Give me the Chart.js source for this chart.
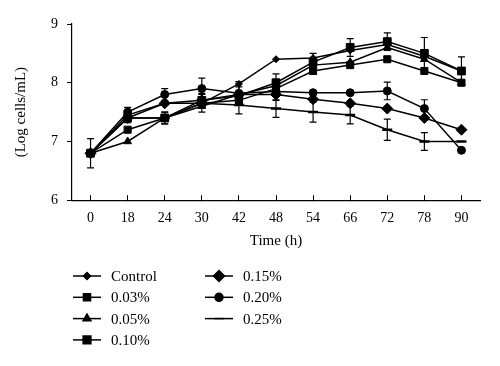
<!DOCTYPE html>
<html>
<head>
<meta charset="utf-8">
<script src="https://cdn.jsdelivr.net/npm/chart.js@4.4.0/dist/chart.umd.min.js"></script>
<style>
  html, body { margin: 0; padding: 0; background: #fff; }
  #wrap { width: 500px; height: 366px; position: relative; }
</style>
</head>
<body>
<div id="wrap"><canvas id="chart"></canvas></div>
<script>
// Growth curves: log cells/mL over time, one line per treatment.
const TIMES = ["0", "18", "24", "30", "42", "48", "54", "66", "72", "78", "90"];

const CONTROL = [6.8, 7.45, 7.65, 7.65, 7.98, 8.40, 8.42, 8.55, 8.65, 8.45, 8.20];
const P003 = [6.8, 7.20, 7.40, 7.65, 7.70, 7.90, 8.20, 8.30, 8.40, 8.20, 8.00];
const P005 = [6.8, 7.00, 7.40, 7.60, 7.80, 7.95, 8.30, 8.35, 8.60, 8.40, 8.00];
const P010 = [6.8, 7.40, 7.40, 7.70, 7.78, 8.00, 8.35, 8.60, 8.70, 8.50, 8.20];
const P015 = [6.8, 7.40, 7.65, 7.70, 7.80, 7.80, 7.72, 7.65, 7.56, 7.40, 7.20];
const P020 = [6.8, 7.50, 7.80, 7.90, 7.82, 7.85, 7.83, 7.83, 7.86, 7.56, 6.85];
const P025 = [6.8, 7.40, 7.40, 7.65, 7.62, 7.56, 7.50, 7.45, 7.20, 7.00, 7.00];

// error bar half-widths (only some series show them)
const ERR_P010 = [0.25, 0.08, 0.10, 0.12, 0.15, 0.15, 0.15, 0.15, 0.15, 0.27, 0.24];
const ERR_P020 = [0, 0.08, 0.10, 0.18, 0.20, 0.15, 0, 0, 0.15, 0.15, 0];
const ERR_P025 = [0, 0.05, 0.10, 0.15, 0.15, 0.15, 0.17, 0.15, 0.18, 0.15, 0];

const SERIES = [
  { label: "Control", data: CONTROL, style: "rectRot", r: 3.5 },
  { label: "0.03%", data: P003, style: "rect", r: 5 },
  { label: "0.05%", data: P005, style: "triangle", r: 4.5 },
  { label: "0.10%", data: P010, style: "rect", r: 5.5, err: ERR_P010 },
  { label: "0.15%", data: P015, style: "rectRot", r: 5.5 },
  { label: "0.20%", data: P020, style: "circle", r: 4, err: ERR_P020 },
  { label: "0.25%", data: P025, style: "line", r: 5, err: ERR_P025 },
];

const FONT = "'Liberation Serif', 'DejaVu Serif', serif";

const errorBars = {
  id: "errorBars",
  afterDatasetsDraw(chart) {
    const { ctx, scales } = chart;
    ctx.save();
    ctx.strokeStyle = "#000";
    ctx.lineWidth = 1.2;
    chart.data.datasets.forEach((ds) => {
      if (!ds.err) return;
      ds.err.forEach((e, i) => {
        if (!e) return;
        const x = scales.x.getPixelForValue(i);
        const y1 = scales.y.getPixelForValue(ds.data[i] + e);
        const y2 = scales.y.getPixelForValue(ds.data[i] - e);
        ctx.beginPath();
        ctx.moveTo(x, y1); ctx.lineTo(x, y2);
        ctx.moveTo(x - 3.5, y1); ctx.lineTo(x + 3.5, y1);
        ctx.moveTo(x - 3.5, y2); ctx.lineTo(x + 3.5, y2);
        ctx.stroke();
      });
    });
    ctx.restore();
  },
};

// two-column legend under the plot, drawn like the original
const columnLegend = {
  id: "columnLegend",
  afterDraw(chart) {
    const ctx = chart.ctx;
    const cols = [73, 205];
    const rowTop = 276, rowGap = 21.3, perCol = 4;
    ctx.save();
    ctx.font = "15px " + FONT;
    ctx.textBaseline = "middle";
    ctx.fillStyle = "#000";
    chart.data.datasets.forEach((ds, i) => {
      const x = cols[Math.floor(i / perCol)];
      const y = rowTop + (i % perCol) * rowGap;
      ctx.strokeStyle = "#000";
      ctx.lineWidth = 1.5;
      ctx.beginPath();
      ctx.moveTo(x, y); ctx.lineTo(x + 28, y);
      ctx.stroke();
      Chart.helpers.drawPoint(ctx, {
        pointStyle: ds.pointStyle, radius: ds.pointRadius, rotation: 0,
        borderWidth: ds.pointStyle === "line" ? 2.5 : 1,
      }, x + 14, y);
      ctx.fillStyle = "#000";
      ctx.fillText(ds.label, x + 38, y + 1);
    });
    ctx.restore();
  },
};

new Chart(document.getElementById("chart"), {
  type: "line",
  data: {
    labels: TIMES,
    datasets: SERIES.map((s) => ({
      label: s.label,
      data: s.data,
      err: s.err,
      borderColor: "#000",
      borderWidth: 1.5,
      backgroundColor: "#000",
      pointBackgroundColor: "#000",
      pointBorderColor: "#000",
      pointBorderWidth: s.style === "line" ? 2.5 : 1,
      pointStyle: s.style,
      pointRadius: s.r,
      tension: 0,
    })),
  },
  options: {
    responsive: true,
    maintainAspectRatio: false,
    animation: false,
    layout: { padding: { top: 24, right: 20, bottom: 112, left: 8 } },
    plugins: { legend: { display: false }, tooltip: { enabled: false } },
    scales: {
      x: {
        offset: true,
        grid: { drawOnChartArea: false, tickLength: -5, color: "#000" },
        border: { color: "#000", width: 1.2 },
        ticks: { color: "#000", font: { family: FONT, size: 14 }, padding: 15, maxRotation: 0 },
        title: { display: true, text: "Time (h)", color: "#000", font: { family: FONT, size: 15 }, padding: { top: -10 } },
      },
      y: {
        min: 6, max: 9,
        ticks: { stepSize: 1, color: "#000", font: { family: FONT, size: 14 }, padding: 9 },
        grid: { drawOnChartArea: false, tickLength: 5, color: "#000" },
        border: { color: "#000", width: 1.2 },
        title: { display: true, text: "(Log cells/mL)", color: "#000", font: { family: FONT, size: 15 }, padding: { bottom: 12 } },
      },
    },
  },
  plugins: [errorBars, columnLegend],
});
</script>
</body>
</html>
